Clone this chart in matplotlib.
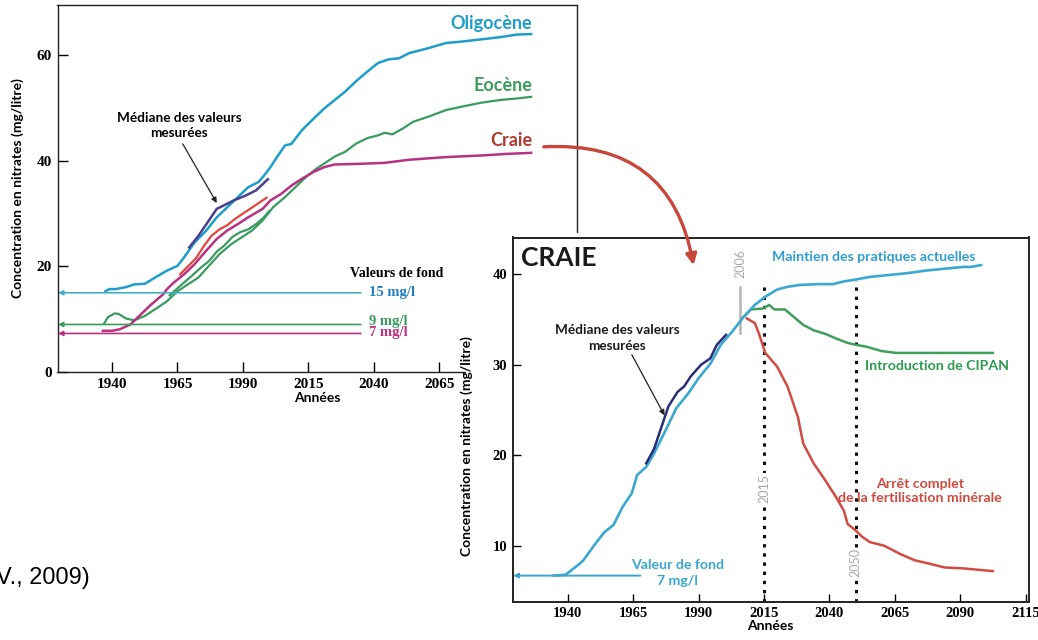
import matplotlib
matplotlib.use('Agg')
import matplotlib.pyplot as plt
from matplotlib.patches import Rectangle, FancyArrowPatch

SANS = ['Lato', 'DejaVu Sans']
SERIF = ['Liberation Serif', 'DejaVu Serif']

# ----------------------------
# Data - left chart (aquifers)
# ----------------------------
oligo_years = [1937.5, 1939, 1941.5, 1945.5, 1948.5, 1952.5, 1956.5, 1961, 1965, 1967.5,
               1971.5, 1976, 1980, 1984, 1988, 1992, 1996, 1998.5, 2000.5, 2003,
               2006, 2008.5, 2012.5, 2017, 2021, 2025, 2029, 2033, 2037.5, 2041.5,
               2045.5, 2049.5, 2053.5, 2060.5, 2067.5, 2074, 2081, 2088, 2094.5, 2100]
oligo_vals = [15.3, 15.7, 15.7, 16.1, 16.6, 16.7, 17.9, 19.2, 20.1, 21.7,
              24.5, 26.8, 29.3, 31.2, 33.1, 35.0, 36.0, 37.5, 38.8, 40.7,
              42.9, 43.2, 45.8, 48.0, 49.9, 51.5, 53.1, 55.0, 56.9, 58.5,
              59.2, 59.4, 60.4, 61.3, 62.3, 62.6, 63.0, 63.4, 63.9, 64.0]

eoc_years = [1937, 1938.5, 1941, 1942.5, 1945.5, 1948.5, 1952.5, 1956.5, 1961, 1965,
             1969, 1973, 1977, 1981, 1985.5, 1989.5, 1993.5, 1997.5, 2001.5, 2006,
             2010, 2014, 2018, 2022, 2025, 2029, 2033, 2037.5, 2041.5, 2044,
             2047, 2051, 2055, 2060.5, 2067.5, 2074, 2081, 2088, 2094.5, 2100]
eoc_vals = [9.2, 10.4, 11.1, 11.0, 10.1, 9.8, 10.6, 11.9, 13.4, 15.3,
            16.6, 17.9, 20.1, 22.3, 24.2, 25.5, 26.8, 28.7, 31.2, 33.1,
            35.0, 36.9, 38.5, 39.8, 40.8, 41.7, 43.2, 44.3, 44.8, 45.3,
            45.0, 46.1, 47.4, 48.3, 49.6, 50.3, 51.0, 51.5, 51.8, 52.1]

eoc_med_years = [1962, 1966, 1970, 1974, 1977, 1980, 1983, 1986, 1989, 1992, 1995, 1998, 2000]
eoc_med_vals = [14.5, 16.3, 18.0, 19.8, 21.0, 22.8, 24.0, 25.6, 26.5, 27.0, 28.0, 29.3, 30.5]

craie_years = [1936.5, 1940, 1943, 1947, 1951, 1955, 1959.5, 1961, 1963.5, 1967.5,
               1971.5, 1976, 1980, 1984, 1988, 1992, 1997.5, 2000.5, 2004.5, 2008.5,
               2012.5, 2017, 2021, 2025, 2033, 2044, 2053.5, 2067.5, 2081, 2090.5, 2100]
craie_vals = [7.8, 7.8, 8.1, 9.0, 10.9, 12.8, 14.7, 15.7, 16.9, 18.5,
              20.4, 23.0, 25.2, 26.8, 28.0, 29.3, 30.9, 32.5, 33.7, 35.3,
              36.6, 37.9, 38.8, 39.3, 39.4, 39.6, 40.2, 40.7, 41.0, 41.3, 41.5]

craie_med_years = [1966, 1969, 1972, 1975, 1978, 1981, 1984, 1987, 1990, 1993, 1996, 1999]
craie_med_vals = [18.5, 20.0, 21.5, 23.8, 25.8, 27.0, 27.8, 29.0, 30.0, 31.0, 32.0, 33.0]

oligo_med_years = [1969.5, 1973, 1977, 1980, 1982.5, 1986.5, 1991, 1995, 1999.5]
oligo_med_vals = [23.6, 25.8, 28.7, 30.9, 31.5, 32.5, 33.4, 34.4, 36.5]

fond_levels = [15, 9, 7.3]
fond_labels = ['15 mg/l', '9 mg/l', '7 mg/l']

# ----------------------------
# Data - right chart (Craie scenarios)
# ----------------------------
maint_years = [1934.7, 1939.2, 1944.5, 1946, 1950, 1954, 1957.5, 1961, 1964.5, 1966.5,
               1970, 1973, 1977.5, 1981.5, 1986, 1990, 1994.5, 1998.5, 2003, 2007,
               2011.5, 2015.5, 2020, 2024, 2028.5, 2035.5, 2041.5, 2045.5, 2050, 2055.5,
               2062.5, 2069.5, 2077, 2084, 2091, 2094, 2098]
maint_vals = [6.7, 6.8, 8.0, 8.4, 10.0, 11.5, 12.3, 14.3, 15.8, 17.8,
              18.7, 20.2, 22.8, 25.2, 26.8, 28.5, 30.1, 32.2, 33.7, 35.2,
              36.6, 37.5, 38.3, 38.6, 38.8, 38.9, 38.9, 39.2, 39.4, 39.7,
              39.9, 40.1, 40.4, 40.6, 40.8, 40.8, 41.0]

med_years = [1970, 1973, 1976.5, 1978.5, 1982, 1984.5, 1987, 1991, 1994.5, 1997, 2000.5]
med_vals = [19.1, 20.7, 23.7, 25.4, 27.0, 27.6, 28.7, 30.0, 30.7, 32.2, 33.3]

cipan_years = [2007, 2010, 2014.5, 2017, 2019, 2023, 2025.5, 2030, 2034, 2038.5,
               2042.5, 2047, 2050, 2054, 2060, 2065.5, 2077, 2091, 2102.5]
cipan_vals = [35.2, 36.1, 36.2, 36.6, 36.1, 36.1, 35.5, 34.4, 33.8, 33.4,
              32.9, 32.4, 32.2, 32.0, 31.5, 31.3, 31.3, 31.3, 31.3]

arret_years = [2008.5, 2011.5, 2013, 2015.5, 2020, 2024, 2028, 2030, 2034, 2038.5,
               2042.5, 2045.5, 2047, 2050, 2052.5, 2055.5, 2061, 2067, 2072.5, 2078.5,
               2084, 2091, 2102.5]
arret_vals = [35.1, 34.6, 33.5, 31.3, 29.8, 27.6, 24.2, 21.3, 19.1, 17.2,
              15.4, 13.9, 12.4, 11.7, 11.0, 10.4, 10.0, 9.1, 8.4, 8.0,
              7.6, 7.5, 7.2]

xticks_left = [1940, 1965, 1990, 2015, 2040, 2065]
yticks_left = [0, 20, 40, 60]
xticks_right = [1940, 1965, 1990, 2015, 2040, 2065, 2090, 2115]
yticks_right = [10, 20, 30, 40]

# colours
C_OLIGO = '#1f9dca'
C_EOC = '#3a9b5e'
C_MAG = '#b83282'
C_RED = '#e0463e'
C_NAVY = '#4a3f8e'
C_TEAL = '#43b1be'
C_CRAIE = '#b2372f'


def fx(px):
    return px / 1038


def fy(py):
    return 1 - py / 640


fig = plt.figure(figsize=(10.38, 6.4), dpi=100)

# ----------------------------
# Left chart
# ----------------------------
ax1 = fig.add_axes([fx(57.5), fy(372), fx(577) - fx(57.5), fy(5) - fy(372)])
ax1.set_zorder(1)
ax1.set_xlim(1919.2, 2117.5)
ax1.set_ylim(0, 69.5)

for lvl, col in zip(fond_levels, [C_TEAL, C_EOC, C_MAG]):
    ax1.annotate('', xy=(1919.4, lvl), xytext=(2035, lvl),
                 arrowprops=dict(arrowstyle='-|>', color=col, lw=1.2,
                                 mutation_scale=7, shrinkA=0, shrinkB=0))
for lvl, dy, lab, col in zip(fond_levels, [0, 0.5, 0.1], fond_labels,
                             ['#1f7fc2', C_EOC, '#c0307e']):
    ax1.text(2038, lvl + dy, lab, color=col, fontsize=10.5,
             fontweight='bold', family=SERIF, va='center', ha='left')
ax1.text(2048.5, 18.6, 'Valeurs de fond', fontsize=10, fontweight='bold', family=SERIF,
         ha='center', va='center')

ax1.plot(eoc_years, eoc_vals, color=C_EOC, lw=1.6)
ax1.plot(eoc_med_years, eoc_med_vals, color=C_EOC, lw=1.6)
ax1.plot(oligo_years, oligo_vals, color=C_OLIGO, lw=1.8)
ax1.plot(craie_years, craie_vals, color=C_MAG, lw=1.8)
ax1.plot(craie_med_years, craie_med_vals, color=C_RED, lw=1.6)
ax1.plot(oligo_med_years, oligo_med_vals, color=C_NAVY, lw=1.8)

ax1.text(2100.5, 66.0, 'Oligocène', color=C_OLIGO, fontsize=13, fontweight='bold',
         family=SANS, ha='right', va='center')
ax1.text(2100.5, 54.3, 'Eocène', color=C_EOC, fontsize=13, fontweight='bold',
         family=SANS, ha='right', va='center')
ax1.text(2100.5, 43.9, 'Craie', color=C_CRAIE, fontsize=13, fontweight='bold',
         family=SANS, ha='right', va='center')

ax1.text(1965.7, 46.7, 'Médiane des valeurs\nmesurées', fontsize=9.8, fontweight='bold',
         family=SANS, ha='center', va='center', linespacing=1.3)
ax1.annotate('', xy=(1980, 32.0), xytext=(1967, 43.2),
             arrowprops=dict(arrowstyle='-|>', color='#222222', lw=0.9, mutation_scale=8,
                             shrinkA=0, shrinkB=0))

ax1.set_xticks(xticks_left, [str(t) for t in xticks_left], fontsize=11,
               fontweight='bold', family=SERIF)
ax1.set_yticks(yticks_left, [str(t) for t in yticks_left], fontsize=11,
               fontweight='bold', family=SERIF)
ax1.tick_params(direction='in', length=7, width=1, pad=4)
ax1.set_xlabel('Années', fontsize=10, fontweight='bold', family=SANS, labelpad=1)
ax1.set_ylabel('Concentration en nitrates (mg/litre)', fontsize=10, fontweight='bold',
               family=SANS, labelpad=9)
for sp in ax1.spines.values():
    sp.set_linewidth(1.0)
    sp.set_color('#222222')

# white backing of the inset picture
fig.add_artist(Rectangle((fx(466), 0), 1 - fx(466), fy(233), transform=fig.transFigure,
                         facecolor='white', edgecolor='none', zorder=2))

# ----------------------------
# Right chart
# ----------------------------
ax2 = fig.add_axes([fx(512.5), fy(601.5), fx(1029) - fx(512.5), fy(237.5) - fy(601.5)])
ax2.set_zorder(3)
ax2.set_xlim(1918.9, 2116.3)
ax2.set_ylim(3.84, 44.05)

ax2.annotate('', xy=(1919.1, 6.7), xytext=(1967.8, 6.7),
             arrowprops=dict(arrowstyle='-|>', color='#3aa6cf', lw=1.4,
                             mutation_scale=7, shrinkA=0, shrinkB=0))
ax2.text(1981.8, 7.0, 'Valeur de fond\n7 mg/l', color='#3aa6cf', fontsize=10.2,
         fontweight='bold', family=SANS, ha='center', va='center', linespacing=1.4)

for yr, top in [(2015, 39.0), (2050, 39.2)]:
    ax2.plot([yr, yr], [3.84, top], color='#111111', lw=2.2, ls=(0, (1.1, 1.9)))
ax2.plot([2006, 2006], [33.5, 38.6], color='#b5b5b5', lw=1.8)
ax2.text(2006, 41.2, '2006', rotation=90, color='#a8a8a8', fontsize=9, family=SANS,
         ha='center', va='center')
ax2.text(2015, 16.3, '2015', rotation=90, color='#a8a8a8', fontsize=9, family=SANS,
         ha='center', va='center', bbox=dict(facecolor='white', edgecolor='none', pad=0.5))
ax2.text(2050, 8.1, '2050', rotation=90, color='#a8a8a8', fontsize=9, family=SANS,
         ha='center', va='center', bbox=dict(facecolor='white', edgecolor='none', pad=0.5))

ax2.plot(cipan_years, cipan_vals, color='#3f9f5c', lw=1.8)
ax2.plot(arret_years, arret_vals, color='#d24b43', lw=1.8)
ax2.plot(maint_years, maint_vals, color='#3ba8d2', lw=1.9)
ax2.plot(med_years, med_vals, color='#2a2e79', lw=1.8)

ax2.text(1922.3, 41.8, 'CRAIE', fontsize=19, fontweight='bold', family=SANS,
         ha='left', va='center', color='#1a1a1a')
ax2.text(2056.8, 41.9, 'Maintien des pratiques actuelles', color='#2f9fd2', fontsize=10.2,
         fontweight='bold', family=SANS, ha='center', va='center')
ax2.text(2081, 29.8, 'Introduction de CIPAN', color='#2e9a50', fontsize=10.2,
         fontweight='bold', family=SANS, ha='center', va='center')
ax2.text(2074.7, 16.05, 'Arrêt complet\nde la fertilisation minérale', color='#d04a40',
         fontsize=10.2, fontweight='bold', family=SANS, ha='center', va='center',
         linespacing=1.2)
ax2.text(1958.8, 33.0, 'Médiane des valeurs\nmesurées', fontsize=9.8, fontweight='bold',
         family=SANS, ha='center', va='center', linespacing=1.4, color='#1a1a1a')
ax2.annotate('', xy=(1977, 24.4), xytext=(1964.5, 31.1),
             arrowprops=dict(arrowstyle='-|>', color='#222222', lw=0.9, mutation_scale=8,
                             shrinkA=0, shrinkB=0))

ax2.set_xticks(xticks_right, [str(t) for t in xticks_right], fontsize=10.5,
               fontweight='bold', family=SERIF)
ax2.set_yticks(yticks_right, [str(t) for t in yticks_right], fontsize=10.5,
               fontweight='bold', family=SERIF)
ax2.tick_params(direction='in', length=6, width=1, pad=4)
ax2.set_xlabel('Années', fontsize=10, fontweight='bold', family=SANS, labelpad=0)
ax2.set_ylabel('Concentration en nitrates (mg/litre)', fontsize=10, fontweight='bold',
               family=SANS)
ax2.yaxis.set_label_coords(-0.076, 0.428)
for sp in ax2.spines.values():
    sp.set_linewidth(1.4)
    sp.set_color('#222222')

# red connector from "Craie" to the inset
fig.add_artist(FancyArrowPatch((fx(541), fy(147)), (fx(694), fy(268)),
                               transform=fig.transFigure, connectionstyle='arc3,rad=-0.45',
                               arrowstyle='-|>', mutation_scale=16, color='#c8463b',
                               lw=2.4, zorder=5))

# cut-off source note
fig.text(fx(90), fy(578), 'V., 2009)', fontsize=17, family=['Liberation Sans', 'DejaVu Sans'],
         ha='right', va='center')

fig.savefig('out.png', dpi=100, facecolor='white')
